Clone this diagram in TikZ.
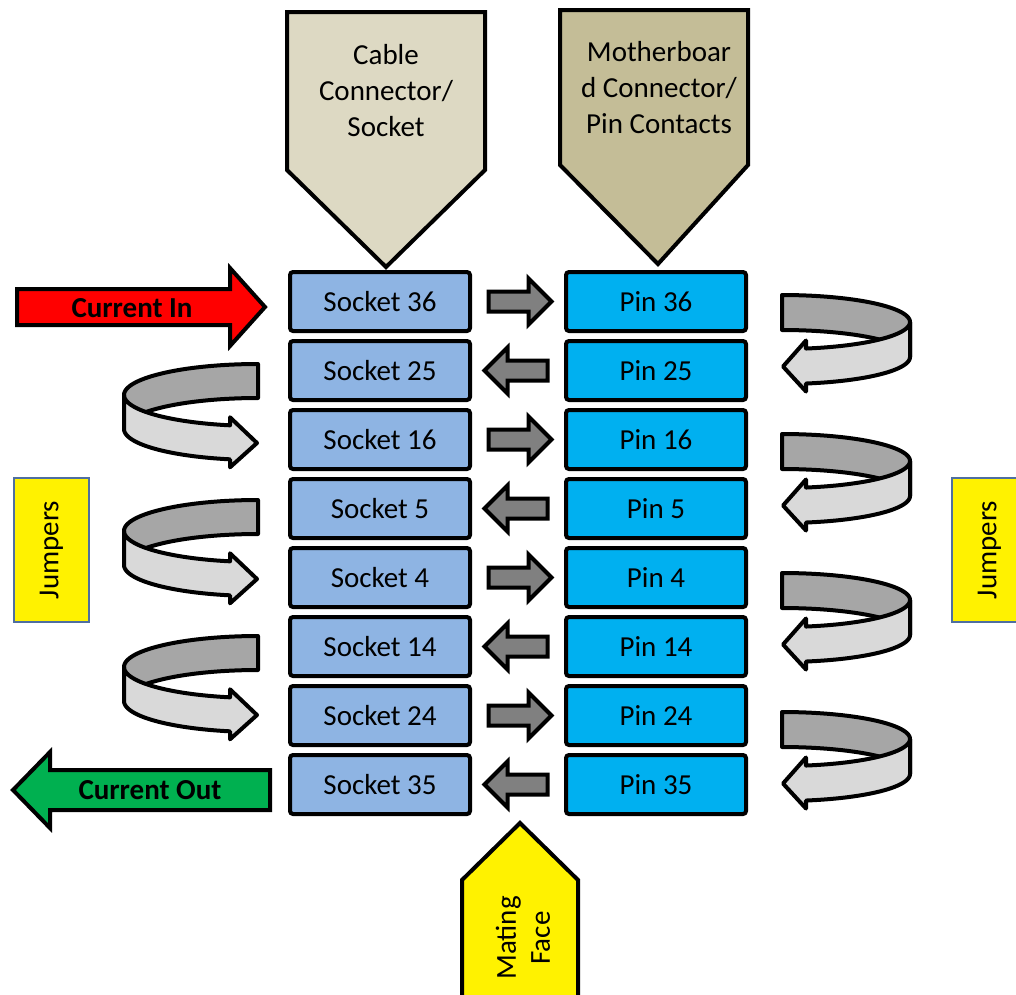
\documentclass[tikz,border=0pt]{standalone}
\usepackage{fontspec}
\setmainfont{Carlito}
\usetikzlibrary{shapes.arrows,calc}
\definecolor{sockfill}{HTML}{8EB4E3}
\definecolor{pinfill}{HTML}{00B0F0}
\definecolor{cablefill}{HTML}{DDD9C3}
\definecolor{mbfill}{HTML}{C4BD97}
\definecolor{loopdark}{HTML}{A6A6A6}
\definecolor{looplight}{HTML}{D9D9D9}
\definecolor{jumpborder}{HTML}{4F6FA0}
\definecolor{outgreen}{HTML}{00B050}
\definecolor{arrgray}{HTML}{808080}
\begin{document}
\begin{tikzpicture}[x=1pt,y=-1pt,
  every node/.style={font=\fontsize{29}{36}\selectfont, inner sep=0pt},
  contact/.style={draw=black, line width=4pt, rounded corners=3pt, minimum width=180pt, minimum height=59pt},
  sockbox/.style={contact, fill=sockfill},
  pinbox/.style={contact, fill=pinfill},
  smallarr/.style={single arrow, draw=black, fill=arrgray, line width=4pt, inner sep=8pt, minimum height=63pt, minimum width=42pt, single arrow head extend=13pt, single arrow tip angle=90, single arrow head indent=0pt},
  shapefive/.style={draw=black, line width=4pt, line join=miter},
  loopd/.style={draw=black, line width=4pt, fill=loopdark, line join=round},
  loopl/.style={draw=black, line width=4pt, fill=looplight, line join=round},
  jumpbox/.style={draw=jumpborder, line width=1.5pt, fill=yellow, rotate=90, minimum width=144pt, minimum height=75pt},
  bigarrow/.style={draw=black, line width=4pt, line join=miter},
  boldlabel/.style={font=\bfseries\fontsize{29}{36}\selectfont},
]
\useasboundingbox (0,0) rectangle (1016,994);

% header pentagons
\draw[shapefive, fill=cablefill] (287,12) -- (485,12) -- (485,170) -- (386,267) -- (287,170) -- cycle;
\node[align=center] (cable) at (386,91) {Cable\\Connector/\\Socket};
\draw[shapefive, fill=mbfill] (560,10) -- (748,10) -- (748,165) -- (658,264) -- (560,165) -- cycle;
\node[align=center] (mb) at (659,88) {Motherboar\\d Connector/\\Pin Contacts};

% sockets and pins
\foreach \n [count=\i from 0] in {36,25,16,5,4,14,24,35}{
  \node[sockbox] (s\n) at (380,{301.5+69*\i}) {Socket \n};
  \node[pinbox] (p\n) at (656,{301.5+69*\i}) {Pin \n};
}
\foreach \n/\d/\s in {36/0/-3,25/180/3,16/0/-3,5/180/3,4/0/-3,14/180/3,24/0/-3,35/180/3}{
  \node[smallarr, rotate=\d] (a\n) at ($(s\n.east)!0.5!(p\n.west)+(\s,0)$) {};
}

% current in / out
\draw[bigarrow, fill=red] (17,289) -- (230,289) -- (230,268) -- (265,307) -- (230,346) -- (230,325) -- (17,325) -- cycle;
\node[boldlabel] (cin) at (132,308) {Current In};
\draw[bigarrow, fill=outgreen] (270,770) -- (50,770) -- (50,752) -- (13,790) -- (50,828) -- (50,810) -- (270,810) -- cycle;
\node[boldlabel] (cout) at (150,790) {Current Out};

% left loops
\foreach \tp in {362,498,634}{
  \pgfmathsetmacro\ctr{\tp+2+31}
  \draw[loopd] plot[domain=-90:-180, samples=40, variable=\t] ({258+134*cos(\t)},{\ctr+31*sin(\t)})
    -- plot[domain=-180:-90, samples=40, variable=\t] ({258+134*cos(\t)},{\ctr+34+31*sin(\t)}) -- cycle;
  \draw[loopl] plot[domain=180:102.06, samples=40, variable=\t] ({258+134*cos(\t)},{\ctr+31*sin(\t)})
    -- (230,{\ctr+30.3-8}) -- (257,{\ctr+31+17}) -- (230,{\ctr+34+30.3+8})
    -- plot[domain=102.06:180, samples=40, variable=\t] ({258+134*cos(\t)},{\ctr+34+31*sin(\t)}) -- cycle;
}

% right loops
\foreach \tp in {293,432,571,710}{
  \pgfmathsetmacro\ctr{\tp+2+27}
  \draw[loopd] plot[domain=-90:0, samples=40, variable=\t] ({782+128*cos(\t)},{\ctr+27*sin(\t)})
    -- plot[domain=0:-90, samples=40, variable=\t] ({782+128*cos(\t)},{\ctr+35+27*sin(\t)}) -- cycle;
  \draw[loopl] plot[domain=0:79.2, samples=40, variable=\t] ({782+128*cos(\t)},{\ctr+27*sin(\t)})
    -- (806,{\ctr+26.5-8}) -- (783,{\ctr+27+17.5}) -- (806,{\ctr+35+26.5+8})
    -- plot[domain=79.2:0, samples=40, variable=\t] ({782+128*cos(\t)},{\ctr+35+27*sin(\t)}) -- cycle;
}

% jumpers
\node[jumpbox] (jl) at (51.5,550) {Jumpers};
\node[jumpbox] (jr) at (989.5,550) {Jumpers};

% mating face
\draw[shapefive, fill=yellow] (462,1000) -- (462,880) -- (520,823) -- (578,880) -- (578,1000);
\node[rotate=90, align=center, font=\fontsize{29}{34}\selectfont] (mating) at (523,938) {Mating\\Face};
\end{tikzpicture}
\end{document}
